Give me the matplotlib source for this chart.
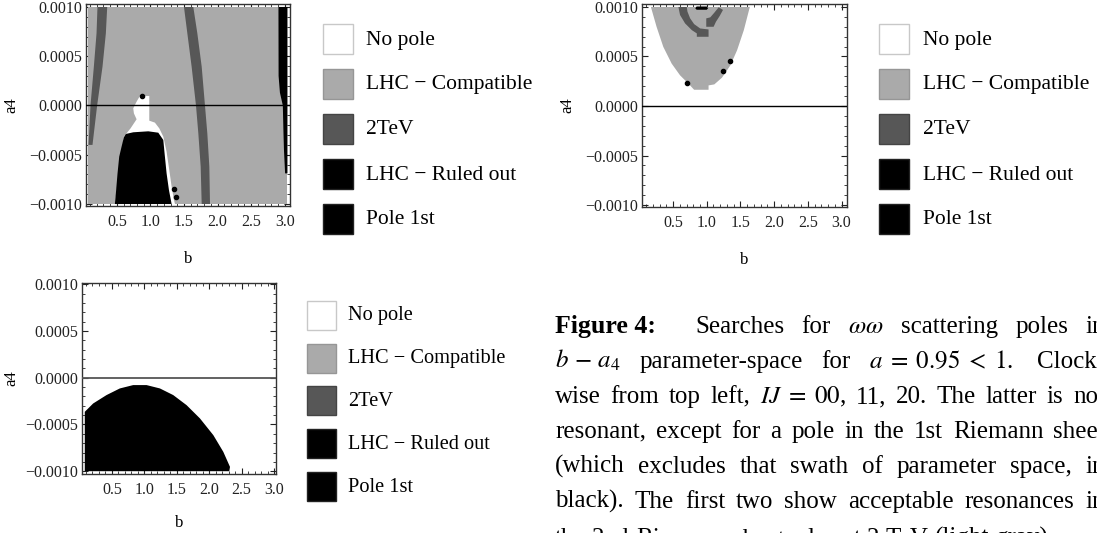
import matplotlib
matplotlib.use('Agg')
import matplotlib.pyplot as plt
from matplotlib.patches import Rectangle
from matplotlib.ticker import MultipleLocator, FuncFormatter

plt.rcParams['font.family'] = ['Liberation Serif', 'DejaVu Serif']
plt.rcParams['mathtext.fontset'] = 'stix'

W, H = 1097, 533
fig = plt.figure(figsize=(W / 100, H / 100), dpi=100)

LIGHT = '#aaaaaa'
DARK = '#575757'
BLACK = '#000000'

categories = ['No pole', 'LHC \u2212 Compatible', '2TeV', 'LHC \u2212 Ruled out', 'Pole 1st']
cat_colors = ['#ffffff', LIGHT, DARK, BLACK, BLACK]
cat_edges = ['#c8c8c8', '#969696', '#444444', '#222222', '#222222']

# ---------------- data: (b, a4 in units of 1e-4) ----------------
# IJ = 00 (top-left)
ij00_compatible = [(0.07, -10), (3.04, -10), (3.04, 10), (0.07, 10)]
ij00_2tev_left = [(0.211, 10), (0.197, 7.33), (0.157, 3.94), (0.107, 0), (0.087, -2.83), (0.077, -4.0),
                  (0.137, -4.0), (0.157, -2.83), (0.206, 0), (0.286, 3.94), (0.336, 7.33), (0.356, 10)]
ij00_2tev_mid = [(1.50, 10), (1.550, 7.33), (1.614, 3.94), (1.679, 0), (1.714, -2.83), (1.749, -6.21),
                 (1.764, -10), (1.888, -10), (1.878, -6.21), (1.848, -2.83), (1.813, 0), (1.764, 3.94),
                 (1.699, 7.33), (1.639, 10)]
ij00_ruled_right = [(2.908, 10), (3.042, 10), (3.042, -6.89), (3.007, -6.89), (2.990, -4.5),
                    (2.983, -2.83), (2.973, 0.0), (2.930, 1.3), (2.910, 3.0)]
ij00_nopole = [(0.843, 0.96), (0.983, 0.96), (0.983, -1.54), (1.067, -1.74), (1.132, -2.32), (1.192, -3.16),
               (1.241, -4.69), (1.281, -6.55), (1.316, -8.24), (1.351, -9.59), (1.366, -10), (0.470, -10),
               (0.604, -3.16), (0.704, -2.32), (0.794, -1.40), (0.754, -0.80), (0.744, -0.29), (0.794, 0.39)]
ij00_pole1st = [(0.604, -3.23), (0.634, -2.89), (0.744, -2.72), (0.968, -2.62), (1.117, -2.76), (1.192, -3.50),
                (1.211, -4.86), (1.241, -6.89), (1.276, -8.58), (1.316, -10), (0.470, -10), (0.485, -8.92),
                (0.510, -6.89), (0.535, -5.19), (0.570, -4.18)]
ij00_dots_b = [0.868, 1.346, 1.381]
ij00_dots_a4 = [1.0, -8.44, -9.32]

# IJ = 11 (top-right)
ij11_compatible = [(0.172, 10), (0.256, 8.0), (0.356, 5.97), (0.480, 4.28), (0.604, 3.10), (0.729, 2.25),
                   (0.813, 1.64), (1.027, 1.64), (1.027, 2.08), (1.112, 2.18), (1.226, 2.86), (1.351, 4.11),
                   (1.450, 5.63), (1.550, 7.66), (1.639, 10)]
ij11_2tev_left = [(0.580, 10), (0.604, 9.19), (0.679, 8.34), (0.779, 7.66), (0.853, 7.33), (0.853, 6.99),
                  (1.027, 6.99), (1.027, 7.73), (0.903, 7.83), (0.813, 8.27), (0.754, 8.85), (0.714, 9.53),
                  (0.704, 10)]
ij11_2tev_right = [(0.993, 8.85), (0.993, 8.0), (1.102, 8.0), (1.137, 8.51), (1.192, 9.09), (1.241, 9.70),
                   (1.177, 9.97), (1.112, 9.42), (1.052, 8.95)]
ij11_ruled = [(0.83, 9.87), (0.85, 9.72), (1.00, 9.72), (1.02, 9.87), (1.00, 10.05), (0.85, 10.05)]
ij11_dots_b = [0.704, 1.241, 1.341]
ij11_dots_a4 = [2.35, 3.54, 4.52]

# IJ = 20 (bottom-left)
ij20_pole1st = [(0.083, -10), (0.083, -3.64), (0.212, -2.75), (0.418, -1.85), (0.623, -1.14), (0.829, -0.78),
                (1.035, -0.78), (1.241, -1.14), (1.446, -1.85), (1.652, -2.93), (1.858, -4.35), (2.064, -6.14),
                (2.218, -7.93), (2.321, -9.54), (2.31, -10)]

x_ticks = [0.5, 1.0, 1.5, 2.0, 2.5, 3.0]
y_ticks = [-0.001, -0.0005, 0.0, 0.0005, 0.001]


def fx(px):
    return px / W


def fy(py):
    return 1 - py / H


def fill(ax, poly, color):
    b, a = zip(*poly)
    ax.fill(b, [v * 1e-4 for v in a], color=color, lw=0, zorder=2)


def yfmt(v, p):
    if abs(v) < 1e-9:
        return '0.0000'
    return f'{v:.4f}'.replace('-', '\u2212')


def style(ax, xlim, ylim, lab_fs=11.5, ypad=7, xpad=15):
    ax.set_xlim(*xlim)
    ax.set_ylim(ylim[0] * 1e-4, ylim[1] * 1e-4)
    ax.set_xticks(x_ticks)
    ax.set_yticks(y_ticks)
    ax.xaxis.set_minor_locator(MultipleLocator(0.1))
    ax.yaxis.set_minor_locator(MultipleLocator(0.0001))
    ax.xaxis.set_major_formatter(FuncFormatter(lambda v, p: f'{v:.1f}'))
    ax.yaxis.set_major_formatter(FuncFormatter(yfmt))
    ax.tick_params(which='both', direction='in', top=True, right=True, labelsize=lab_fs, colors='#222222')
    ax.tick_params(which='major', length=4, width=0.8)
    ax.tick_params(which='minor', length=2, width=0.6)
    ax.tick_params(axis='x', which='major', pad=6)
    ax.tick_params(axis='y', which='major', pad=3)
    for s in ax.spines.values():
        s.set_color('#333333')
        s.set_linewidth(1.0)
    ax.set_xlabel('b', fontsize=12, labelpad=xpad)
    ax.set_ylabel('a4', fontsize=12, labelpad=ypad)


def legend(x0, tops, size, text_x, fs, base_off):
    for top, lab, col, ec in zip(tops, categories, cat_colors, cat_edges):
        fig.add_artist(Rectangle((fx(x0), fy(top + size)), size / W, size / H,
                                 transform=fig.transFigure, facecolor=col, edgecolor=ec, lw=1.0))
        fig.text(fx(text_x), fy(top + base_off), lab, fontsize=fs, va='baseline', ha='left')


# ---------------- panel IJ=00 ----------------
ax1 = fig.add_axes([fx(86), fy(206), 204 / W, 202 / H])
fill(ax1, ij00_compatible, LIGHT)
fill(ax1, ij00_2tev_left, DARK)
fill(ax1, ij00_2tev_mid, DARK)
fill(ax1, ij00_ruled_right, BLACK)
fill(ax1, ij00_nopole, '#ffffff')
fill(ax1, ij00_pole1st, BLACK)
ax1.plot(ij00_dots_b, [v * 1e-4 for v in ij00_dots_a4], 'o', ms=3, color='k', zorder=3)
ax1.axhline(0, color='k', lw=1.0, zorder=4)
style(ax1, (0.04, 3.08), (-10.2, 10.3))

# ---------------- panel IJ=11 ----------------
ax2 = fig.add_axes([fx(642), fy(207), 205 / W, 203 / H])
fill(ax2, ij11_compatible, LIGHT)
fill(ax2, ij11_2tev_left, DARK)
fill(ax2, ij11_2tev_right, DARK)
fill(ax2, ij11_ruled, BLACK)
ax2.plot(ij11_dots_b, [v * 1e-4 for v in ij11_dots_a4], 'o', ms=3, color='k', zorder=3)
ax2.axhline(0, color='k', lw=1.0, zorder=4)
style(ax2, (0.04, 3.08), (-10.2, 10.3))

# ---------------- panel IJ=20 ----------------
ax3 = fig.add_axes([fx(82), fy(474), 194 / W, 191 / H])
fill(ax3, ij20_pole1st, BLACK)
ax3.axhline(0, color='#555555', lw=1.3, zorder=4)
style(ax3, (0.04, 3.03), (-10.3, 10.15), ypad=4, xpad=12)

# ---------------- legends ----------------
legend(323, [24, 69, 114, 159, 204], 30, 366, 15.5, 20.5)
legend(879, [24, 69, 114, 159, 204], 30, 923, 15.5, 20.5)
legend(307, [300.7, 343.5, 386.3, 429.1, 472], 29, 348, 14.7, 19.5)

# ---------------- caption ----------------
caption_lines = [
    ['Figure 4:', 'Searches', 'for', r'$\omega\omega$', 'scattering', 'poles', 'in'],
    [r'$b\,-\,a_4$', 'parameter-space', 'for', r'$a\;=\;0.95\;<\;1$.', 'Clock-'],
    ['wise', 'from', 'top', 'left,', r'$IJ\;=\;00$,', '11,', '20.', 'The', 'latter', 'is', 'not'],
    ['resonant,', 'except', 'for', 'a', 'pole', 'in', 'the', '1st', 'Riemann', 'sheet'],
    ['(which', 'excludes', 'that', 'swath', 'of', 'parameter', 'space,', 'in'],
    ['black).', 'The', 'first', 'two', 'show', 'acceptable', 'resonances', 'in'],
    ['the', '2nd', 'Riemann', 'sheet,', 'also', 'at', '2', 'TeV', '(light', 'gray).'],
]
baselines = [333, 368, 403, 438, 473, 508, 545]
extra_gap = {(0, 0): 22, (1, 3): 5}
fs_cap = 18
x_left, x_right = 555, 1105

fig.canvas.draw()
r = fig.canvas.get_renderer()
for i, (words, yb) in enumerate(zip(caption_lines, baselines)):
    texts = []
    for j, w in enumerate(words):
        bold = (i == 0 and j == 0)
        t = fig.text(0, fy(yb), w, fontsize=fs_cap + (0.6 if bold else 0), va='baseline', ha='left',
                     fontweight='bold' if bold else 'normal')
        texts.append(t)
    widths = [t.get_window_extent(r).width for t in texts]
    extras = [extra_gap.get((i, j), 0) for j in range(len(words))]
    if i < len(caption_lines) - 1:
        gap = (x_right - x_left - sum(widths) - sum(extras[:-1])) / (len(words) - 1)
    else:
        gap = 0.25 * fs_cap * 100 / 72
    x = x_left
    for t, wd, ex in zip(texts, widths, extras):
        t.set_x(fx(x))
        x += wd + gap + ex

fig.savefig('out.png', dpi=100)
